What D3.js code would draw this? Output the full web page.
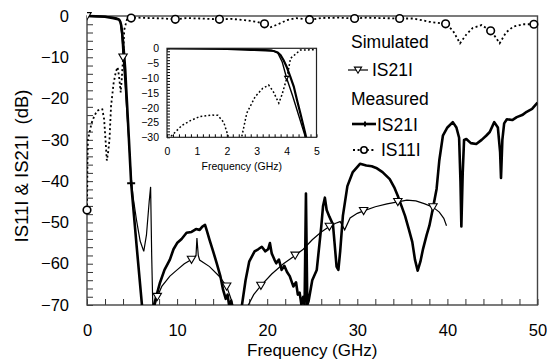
<!DOCTYPE html>
<html>
<head>
<meta charset="utf-8">
<script src="https://cdn.jsdelivr.net/npm/d3@7"></script>
<style>
  body { margin: 0; background: #fff; }
  svg { font-family: "Liberation Sans", Arial, sans-serif; }
</style>
</head>
<body>
<div id="chart"></div>
<script>
// measured |S21| (GHz, dB)
const measS21 = [[0,0],[1,-0.1],[2,-0.2],[2.8,-0.5],[3.3,-0.7],[3.57,-0.9],[3.7,-1.4],[3.8,-2.3],[3.9,-4],[4.0,-6.2],[4.12,-9.5],[4.24,-12.9],[4.35,-17.5],[4.46,-21.9],[4.56,-26],[4.65,-29.8],[4.9,-40.5],[5.5,-55.5],[6.1,-70],[6.4,-76],[7.1,-76],[7.43,-70],[8.1,-64.6],[8.6,-61.5],[9.2,-59],[9.6,-56.5],[10,-55],[10.5,-54],[11.05,-52.5],[11.6,-52.3],[12.1,-51.6],[12.5,-51.8],[12.8,-51],[13.1,-50.6],[13.3,-52],[13.6,-54.2],[14.0,-57],[14.4,-59.9],[14.8,-63],[15.1,-66.3],[15.4,-68.5],[15.6,-67.5],[15.8,-70.5],[16.0,-69],[16.2,-72],[16.8,-76],[17.0,-75],[17.2,-70],[17.6,-64],[18.0,-59.5],[18.6,-57],[19.0,-56.5],[19.4,-55.9],[19.8,-57],[20.1,-56.5],[20.3,-55],[20.5,-57.5],[20.8,-59],[21.0,-59.9],[21.3,-59],[21.6,-61.5],[21.9,-60.5],[22.2,-62],[22.5,-63],[22.9,-65.5],[23.2,-64.5],[23.4,-67.5],[23.6,-67],[23.8,-70],[24.0,-68],[24.15,-70],[24.3,-43],[24.45,-70],[24.6,-69],[25.0,-64],[25.5,-61.5],[26.0,-51],[26.2,-46],[26.4,-44],[26.6,-47],[26.9,-48.6],[27.3,-50.5],[27.7,-60.7],[27.9,-61.5],[28.1,-57],[28.4,-48.4],[28.9,-41.2],[29.5,-37.8],[30.3,-35.8],[31.0,-36.2],[31.6,-36.4],[32.1,-36.8],[32.8,-37.8],[33.6,-39.5],[34.1,-41.5],[34.5,-43.6],[34.9,-46],[35.3,-48.4],[35.7,-51.5],[36.1,-54.7],[36.4,-59],[36.7,-61.7],[37.0,-59.5],[37.3,-56.4],[37.7,-53],[38.0,-50.8],[38.4,-46.5],[38.8,-41.9],[39.1,-35],[39.5,-29],[40.0,-27],[40.6,-25.7],[41.0,-27],[41.3,-29.5],[41.45,-40],[41.55,-51],[41.7,-38],[41.85,-30],[42.1,-29.8],[42.6,-30.8],[43.2,-31],[43.8,-30],[44.3,-29],[44.7,-28.1],[45.2,-25.7],[45.6,-27],[45.85,-33],[45.95,-39.2],[46.1,-30],[46.3,-26],[46.6,-25],[47.2,-25.2],[47.7,-24.5],[48.3,-24],[48.8,-23.2],[49.4,-22.5],[50,-21]];

// simulated |S21|
const simS21 = [[0,0],[1,0],[2,-0.1],[3,-0.3],[3.5,-0.6],[3.7,-1.5],[3.85,-4.5],[4.0,-10],[4.2,-16],[4.4,-22.5],[4.6,-29],[4.9,-39],[5.1,-43.6],[5.5,-49.5],[5.9,-54.5],[6.3,-57],[6.6,-53],[6.9,-45],[7.06,-41.4],[7.18,-58],[7.3,-70],[7.45,-71],[7.8,-68],[8.3,-65.5],[9.2,-63],[10,-61.5],[10.8,-60],[11.6,-59],[12.1,-58],[12.2,-53.8],[12.35,-58],[12.5,-59.1],[13.6,-60.7],[14.7,-63.1],[15.5,-65.5],[15.9,-68],[16.2,-70],[16.8,-72],[17.4,-72],[17.9,-70],[18.5,-67.5],[19.3,-65.3],[20.5,-62.5],[21.8,-60],[23.1,-58],[24.0,-56.5],[25.0,-54.2],[26.0,-52.3],[26.9,-51],[27.6,-50.2],[28.1,-49.8],[28.6,-51.8],[29.2,-48.9],[30.0,-47.8],[30.7,-47.2],[32.0,-46.2],[33.3,-45.5],[34.5,-45],[35.5,-44.6],[36.5,-44.8],[37.5,-45.5],[38.4,-46.3],[39.1,-47.5],[39.6,-49],[39.9,-50.8]];

// measured |S11|
const measS11 = [[0,-47],[0.05,-36],[0.1,-30],[0.2,-29],[0.5,-26],[0.8,-24.3],[1.1,-23],[1.5,-22.5],[1.7,-22.6],[1.9,-25],[2.05,-29.8],[2.2,-35],[2.35,-33],[2.5,-29.8],[2.67,-21.8],[2.95,-16.3],[3.2,-13.5],[3.4,-12.4],[3.55,-14.5],[3.74,-18.5],[3.85,-15.5],[4.02,-9.6],[4.13,-3.4],[4.46,-0.6],[4.9,-0.5],[5.5,-0.4],[7,-0.5],[8.5,-0.6],[9.8,-0.8],[11,-0.5],[12.5,-0.6],[14.7,-0.8],[16,-0.7],[17.5,-1.0],[18.8,-1.4],[19.7,-1.9],[20.3,-2.8],[21.2,-2.0],[22.2,-1.0],[23.2,-0.5],[24.7,-0.9],[26,-0.5],[28,-0.4],[29.7,-0.6],[31,-0.4],[32.5,-0.5],[34.7,-0.6],[36.2,-0.6],[38,-1.4],[39.8,-1.9],[40.6,-3.5],[41.4,-6.6],[42.1,-4.5],[42.8,-2.9],[43.8,-2.2],[44.8,-3.6],[45.3,-5],[45.8,-6.6],[46.5,-4],[47.3,-2.6],[48.4,-2.0],[49.6,-2.0],[50,-1.6]];

// frequencies carrying a marker
const simMarkerF = [0, 4.0, 7.8, 11.6, 15.5, 19.3, 23.1, 26.9, 30.7, 34.5, 38.4];
const measS21MarkerF = [4.9];
const s11MarkerF = [0, 4.9, 9.8, 14.7, 19.7, 24.7, 29.7, 34.7, 39.8, 44.8, 49.6];

const xTicks = [0, 10, 20, 30, 40, 50];
const yTicks = [0, -10, -20, -30, -40, -50, -60, -70];
const insetXTicks = [0, 1, 2, 3, 4, 5];
const insetYTicks = [0, -5, -10, -15, -20, -25, -30];

const width = 547, height = 362;
const svg = d3.select('#chart').append('svg')
  .attr('width', width).attr('height', height);

const x = d3.scaleLinear().domain([0, 50]).range([87, 537.5]);
const y = d3.scaleLinear().domain([-70, 0]).range([305, 16]);

const pick = (data, fs) => fs.map(f => data.find(d => d[0] === f));

// triangle / cross / circle markers
function triangle(g, pts, sx, sy, s) {
  g.selectAll(null).data(pts).join('path')
    .attr('d', d => {
      const cx = sx(d[0]), cy = sy(d[1]);
      return `M${cx - s},${cy - s * 0.8}L${cx + s},${cy - s * 0.8}L${cx},${cy + s * 0.9}Z`;
    })
    .attr('fill', '#fff').attr('stroke', '#000').attr('stroke-width', 1.1);
}
function cross(g, pts, sx, sy, s) {
  g.selectAll(null).data(pts).join('path')
    .attr('d', d => {
      const cx = sx(d[0]), cy = sy(d[1]);
      return `M${cx - s},${cy}L${cx + s},${cy}M${cx},${cy - s * 0.7}L${cx},${cy + s * 0.7}`;
    })
    .attr('stroke', '#000').attr('stroke-width', 2);
}
function circle(g, pts, sx, sy, r) {
  g.selectAll(null).data(pts).join('circle')
    .attr('cx', d => sx(d[0])).attr('cy', d => sy(d[1])).attr('r', r)
    .attr('fill', '#fff').attr('stroke', '#000').attr('stroke-width', 1.6);
}

// main clip
svg.append('clipPath').attr('id', 'clip-main').append('rect')
  .attr('x', x(0)).attr('y', y(0) - 6).attr('width', x(50) - x(0)).attr('height', y(-70) - y(0) + 6);

// axes (ticks inward)
svg.append('g').attr('transform', `translate(0,${y(-70)})`)
  .call(d3.axisBottom(x).tickValues(d3.range(0, 51, 2)).tickSizeInner(-6).tickSizeOuter(0).tickFormat(''))
  .call(g => g.select('.domain').remove())
  .call(g => g.selectAll('line').attr('stroke', '#333'));
svg.append('g').attr('transform', `translate(0,${y(-70)})`)
  .call(d3.axisBottom(x).tickValues(xTicks).tickSize(0).tickPadding(19).tickFormat(d3.format('d')))
  .call(g => g.select('.domain').remove())
  .call(g => g.selectAll('text').attr('font-size', 16.5).attr('font-family', 'Liberation Sans, Arial').attr('fill', '#000'));

svg.append('g').attr('transform', `translate(${x(0)},0)`)
  .call(d3.axisLeft(y).tickValues(d3.range(-70, 1, 2)).tickSizeInner(-6).tickSizeOuter(0).tickFormat(''))
  .call(g => g.select('.domain').remove())
  .call(g => g.selectAll('line').attr('stroke', '#333'));
svg.append('g').attr('transform', `translate(${x(0)},0)`)
  .call(d3.axisLeft(y).tickValues(yTicks).tickSize(0).tickPadding(18).tickFormat(d3.format('d')))
  .call(g => g.select('.domain').remove())
  .call(g => g.selectAll('text').attr('font-size', 16.5).attr('font-family', 'Liberation Sans, Arial').attr('fill', '#000'));

// frame
svg.append('rect')
  .attr('x', x(0)).attr('y', y(0)).attr('width', x(50) - x(0)).attr('height', y(-70) - y(0))
  .attr('fill', 'none').attr('stroke', '#444').attr('stroke-width', 1.4);

// axis titles
svg.append('text')
  .attr('x', (x(0) + x(50)) / 2).attr('y', 356)
  .attr('text-anchor', 'middle').attr('font-size', 17)
  .text('Frequency (GHz)');
svg.append('text')
  .attr('transform', 'translate(28,166) rotate(-90)')
  .attr('text-anchor', 'middle').attr('font-size', 18.5)
  .style('white-space', 'pre')
  .text('IS11I & IS21I  (dB)');

// main curves
const plot = svg.append('g').attr('clip-path', 'url(#clip-main)');
const line = d3.line().x(d => x(d[0])).y(d => y(d[1]));
plot.append('path').datum(measS11).attr('d', line)
  .attr('fill', 'none').attr('stroke', '#000').attr('stroke-width', 1.8).attr('stroke-dasharray', '2,2.6');
plot.append('path').datum(simS21).attr('d', line)
  .attr('fill', 'none').attr('stroke', '#000').attr('stroke-width', 1.2);
plot.append('path').datum(measS21).attr('d', line)
  .attr('fill', 'none').attr('stroke', '#000').attr('stroke-width', 2.6).attr('stroke-linejoin', 'round');
triangle(plot, pick(simS21, simMarkerF), x, y, 4.2);
cross(plot, pick(measS21, measS21MarkerF), x, y, 4);
circle(svg.append('g'), pick(measS11, s11MarkerF), x, y, 3.8);

// inset
const xi = d3.scaleLinear().domain([0, 5]).range([167, 316.5]);
const yi = d3.scaleLinear().domain([-30, 0]).range([137.3, 48.3]);
const inset = svg.append('g');
inset.append('rect')
  .attr('x', xi(0)).attr('y', yi(0)).attr('width', xi(5) - xi(0)).attr('height', yi(-30) - yi(0))
  .attr('fill', '#fff');
svg.append('clipPath').attr('id', 'clip-inset').append('rect')
  .attr('x', xi(0)).attr('y', yi(0)).attr('width', xi(5) - xi(0)).attr('height', yi(-30) - yi(0));

inset.append('g').attr('transform', `translate(0,${yi(-30)})`)
  .call(d3.axisBottom(xi).tickValues(d3.range(0, 5.01, 0.2)).tickSizeInner(-3).tickSizeOuter(0).tickFormat(''))
  .call(g => g.select('.domain').remove());
inset.append('g').attr('transform', `translate(0,${yi(-30)})`)
  .call(d3.axisBottom(xi).tickValues(insetXTicks).tickSize(0).tickPadding(10).tickFormat(d3.format('d')))
  .call(g => g.select('.domain').remove())
  .call(g => g.selectAll('text').attr('font-size', 10.5).attr('font-family', 'Liberation Sans, Arial').attr('fill', '#000'));
inset.append('g').attr('transform', `translate(${xi(0)},0)`)
  .call(d3.axisLeft(yi).tickValues(d3.range(-30, 0.1, 1)).tickSizeInner(-3).tickSizeOuter(0).tickFormat(''))
  .call(g => g.select('.domain').remove());
inset.append('g').attr('transform', `translate(${xi(0)},0)`)
  .call(d3.axisLeft(yi).tickValues(insetYTicks).tickSize(0).tickPadding(8).tickFormat(d3.format('d')))
  .call(g => g.select('.domain').remove())
  .call(g => g.selectAll('text').attr('font-size', 10.5).attr('font-family', 'Liberation Sans, Arial').attr('fill', '#000'));

const lineI = d3.line().x(d => xi(d[0])).y(d => yi(d[1]));
const insetPlot = inset.append('g').attr('clip-path', 'url(#clip-inset)');
insetPlot.append('path').datum(measS11).attr('d', lineI)
  .attr('fill', 'none').attr('stroke', '#000').attr('stroke-width', 1.5).attr('stroke-dasharray', '1.8,2.2');
insetPlot.append('path').datum(simS21).attr('d', lineI)
  .attr('fill', 'none').attr('stroke', '#000').attr('stroke-width', 1.4);
insetPlot.append('path').datum(measS21).attr('d', lineI)
  .attr('fill', 'none').attr('stroke', '#000').attr('stroke-width', 2.2);
triangle(insetPlot, pick(simS21, simMarkerF), xi, yi, 2);

inset.append('rect')
  .attr('x', xi(0)).attr('y', yi(0)).attr('width', xi(5) - xi(0)).attr('height', yi(-30) - yi(0))
  .attr('fill', 'none').attr('stroke', '#222').attr('stroke-width', 1.2);
inset.append('text')
  .attr('x', (xi(0) + xi(5)) / 2).attr('y', 170)
  .attr('text-anchor', 'middle').attr('font-size', 10.5)
  .text('Frequency (GHz)');

// legend
const lg = svg.append('g').attr('font-size', 17.5);
lg.append('text').attr('x', 351).attr('y', 48).text('Simulated');
lg.append('line').attr('x1', 348).attr('x2', 368).attr('y1', 70).attr('y2', 70)
  .attr('stroke', '#000').attr('stroke-width', 1.2);
triangle(lg.append('g'), [[358, 70]], v => v, v => v, 3.6);
lg.append('text').attr('x', 372).attr('y', 76).text('IS21I');

lg.append('text').attr('x', 351).attr('y', 105).text('Measured');
lg.append('line').attr('x1', 352).attr('x2', 376).attr('y1', 124).attr('y2', 124)
  .attr('stroke', '#000').attr('stroke-width', 2.6);
cross(lg.append('g'), [[365, 124]], v => v, v => v, 3.5);
lg.append('text').attr('x', 377).attr('y', 131).text('IS21I');

lg.append('line').attr('x1', 353).attr('x2', 376).attr('y1', 150).attr('y2', 150)
  .attr('stroke', '#000').attr('stroke-width', 1.8).attr('stroke-dasharray', '2,2.6');
circle(lg.append('g'), [[364, 150]], v => v, v => v, 3.2);
lg.append('text').attr('x', 381).attr('y', 156).text('IS11I');
</script>
</body>
</html>
